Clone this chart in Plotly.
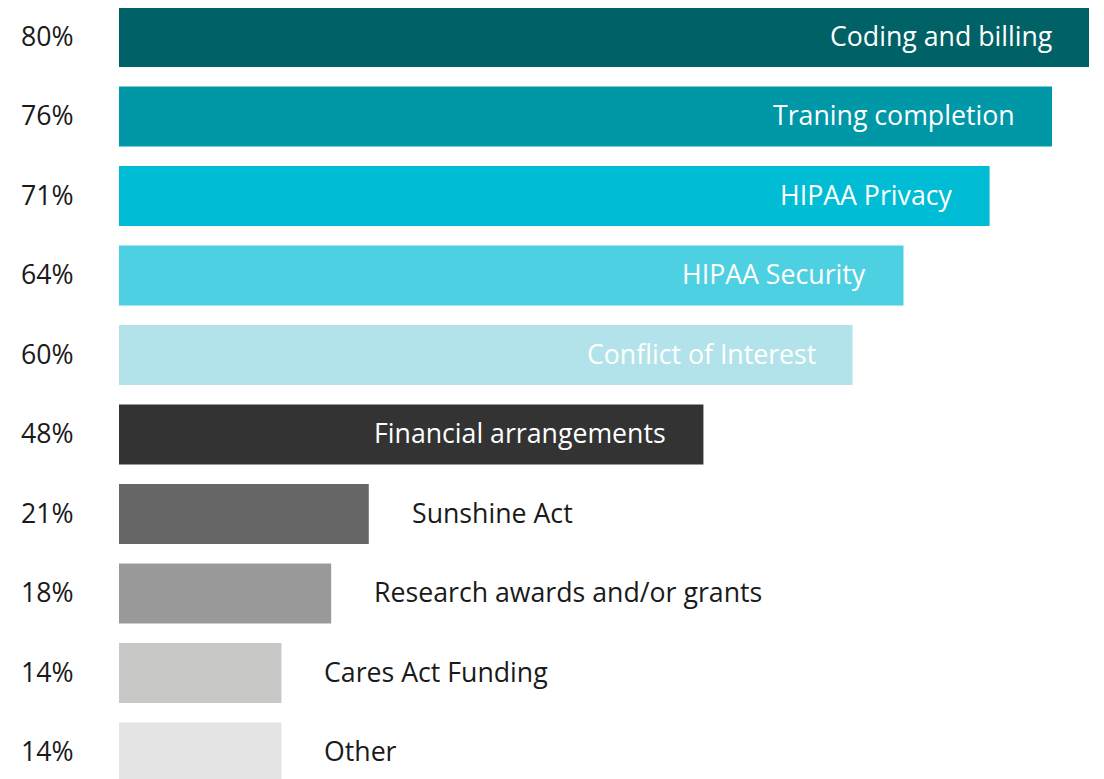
import plotly.graph_objects as go

categories = ["Coding and billing", "Traning completion", "HIPAA Privacy", "HIPAA Security",
              "Conflict of Interest", "Financial arrangements", "Sunshine Act",
              "Research awards and/or grants", "Cares Act Funding", "Other"]
pct_labels = ["80%", "76%", "71%", "64%", "60%", "48%", "21%", "18%", "14%", "14%"]
# bar lengths as drawn in the picture
values = [80, 76.95, 71.8, 64.7, 60.5, 48.2, 20.6, 17.5, 13.4, 13.4]
colors = ["#006266", "#0097A7", "#00BCD4", "#4DD0E1", "#B3E3EA",
          "#333333", "#666666", "#999999", "#C8C8C6", "#E4E4E4"]
inside = [True, True, True, True, True, True, False, False, False, False]

idx = list(range(len(categories)))

fig = go.Figure(go.Bar(
    x=values, y=idx, orientation="h",
    marker=dict(color=colors, line=dict(width=0)),
    hoverinfo="skip",
))

FONT = "Open Sans"
annotations = []
for i, (c, v, ins, p) in enumerate(zip(categories, values, inside, pct_labels)):
    annotations.append(dict(
        x=v, y=i, xref="x", yref="y", text=c, showarrow=False,
        xanchor="right" if ins else "left", xshift=-35 if ins else 41, yshift=2,
        font=dict(family=FONT, size=26.7, color="#FFFFFF" if ins else "#1A1A1A"),
    ))
    annotations.append(dict(
        x=0, y=i, xref="paper", yref="y", text=p, showarrow=False,
        xanchor="left", xshift=-100, yshift=2,
        font=dict(family=FONT, size=26.7, color="#1A1A1A"),
    ))

fig.update_layout(
    width=1096, height=771,
    margin=dict(l=111, r=0, t=0, b=0),
    plot_bgcolor="white", paper_bgcolor="white",
    showlegend=False, bargap=0.245,
    annotations=annotations,
    xaxis=dict(range=[0, 80 * 985 / 970], visible=False, fixedrange=True),
    yaxis=dict(range=[9.333, -0.365], visible=False, fixedrange=True),
)

fig.write_html("out.html")
